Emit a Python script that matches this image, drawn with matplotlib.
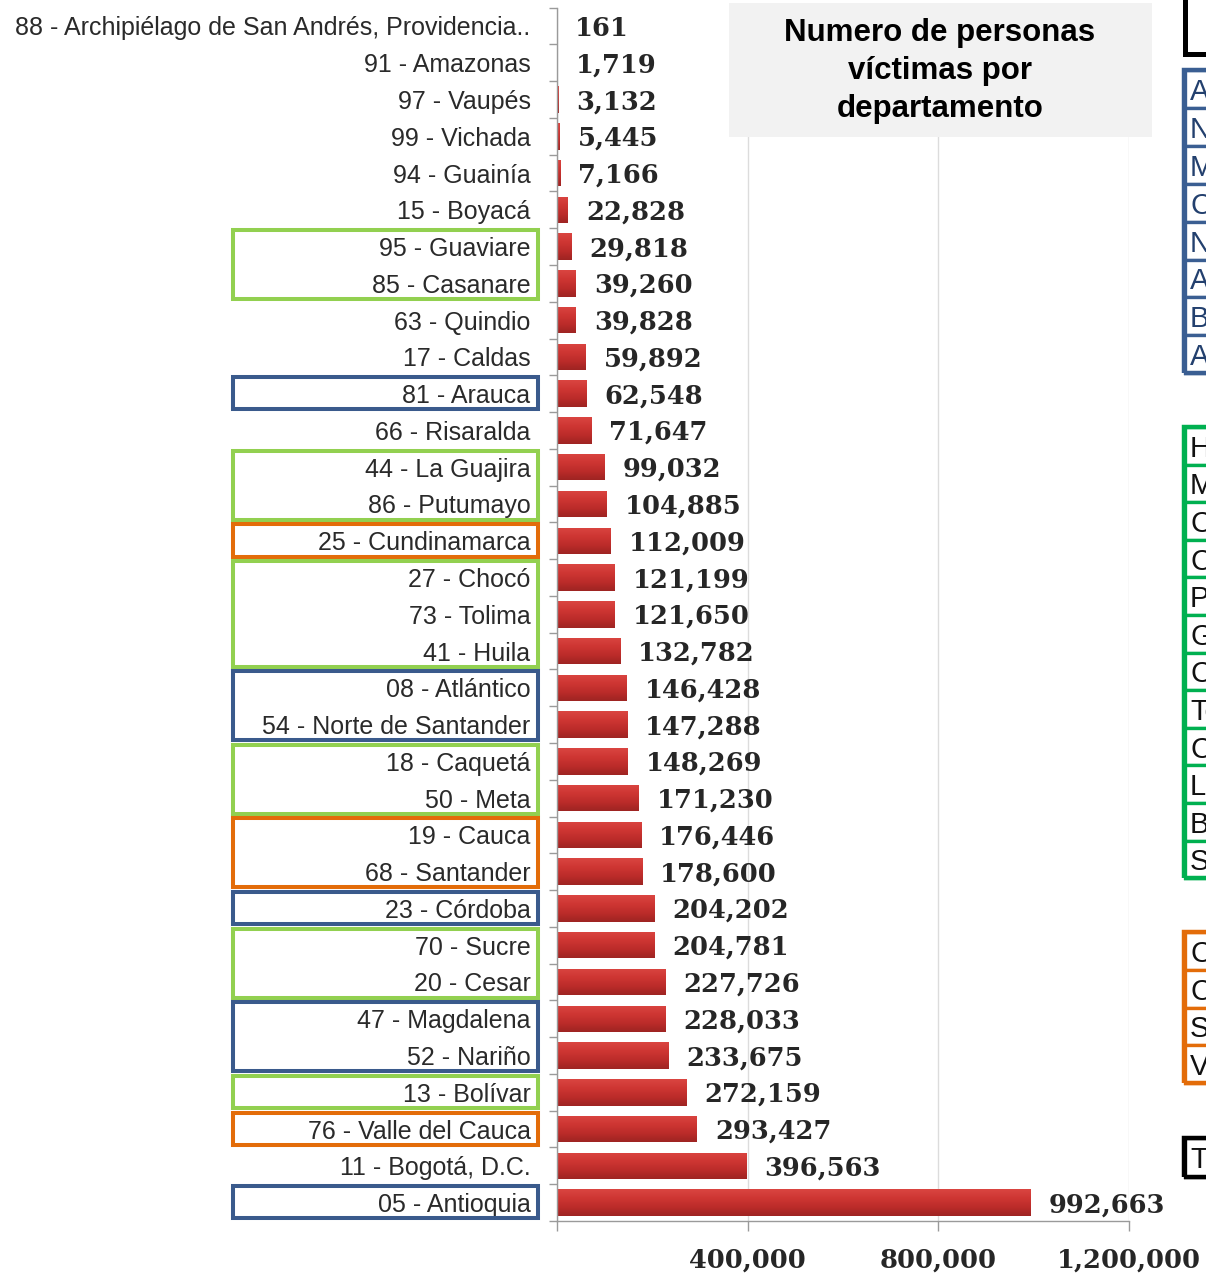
import matplotlib
matplotlib.use("Agg")
import matplotlib.pyplot as plt
import numpy as np
from matplotlib.patches import Rectangle
from matplotlib import transforms
from matplotlib.colors import LinearSegmentedColormap

# ---------------- data ----------------
departamentos = [
    "88 - Archipiélago de San Andrés, Providencia..",
    "91 - Amazonas", "97 - Vaupés", "99 - Vichada", "94 - Guainía",
    "15 - Boyacá", "95 - Guaviare", "85 - Casanare", "63 - Quindio",
    "17 - Caldas", "81 - Arauca", "66 - Risaralda", "44 - La Guajira",
    "86 - Putumayo", "25 - Cundinamarca", "27 - Chocó", "73 - Tolima",
    "41 - Huila", "08 - Atlántico", "54 - Norte de Santander",
    "18 - Caquetá", "50 - Meta", "19 - Cauca", "68 - Santander",
    "23 - Córdoba", "70 - Sucre", "20 - Cesar", "47 - Magdalena",
    "52 - Nariño", "13 - Bolívar", "76 - Valle del Cauca",
    "11 - Bogotá, D.C.", "05 - Antioquia",
]
victimas = [
    161, 1719, 3132, 5445, 7166, 22828, 29818, 39260, 39828, 59892,
    62548, 71647, 99032, 104885, 112009, 121199, 121650, 132782,
    146428, 147288, 148269, 171230, 176446, 178600, 204202, 204781,
    227726, 228033, 233675, 272159, 293427, 396563, 992663,
]
tick_values = [0, 400000, 800000, 1200000]
tick_labels = ["", "400,000", "800,000", "1,200,000"]
titulo = "Numero de personas\nvíctimas por\ndepartamento"

# highlighted groups of labels: (first label, last label, group)
recuadros = [
    ("95 - Guaviare", "85 - Casanare", "verde"),
    ("81 - Arauca", "81 - Arauca", "azul"),
    ("44 - La Guajira", "86 - Putumayo", "verde"),
    ("25 - Cundinamarca", "25 - Cundinamarca", "naranja"),
    ("27 - Chocó", "41 - Huila", "verde"),
    ("08 - Atlántico", "54 - Norte de Santander", "azul"),
    ("18 - Caquetá", "50 - Meta", "verde"),
    ("19 - Cauca", "68 - Santander", "naranja"),
    ("23 - Córdoba", "23 - Córdoba", "azul"),
    ("70 - Sucre", "20 - Cesar", "verde"),
    ("47 - Magdalena", "52 - Nariño", "azul"),
    ("13 - Bolívar", "13 - Bolívar", "verde"),
    ("76 - Valle del Cauca", "76 - Valle del Cauca", "naranja"),
    ("05 - Antioquia", "05 - Antioquia", "azul"),
]

# side legend lists (only the first letters are visible at the right border)
lista_azul = ["A", "N", "M", "C", "N", "A", "B", "A"]
lista_verde = ["H", "M", "C", "C", "P", "G", "C", "To", "C", "La", "B", "S"]
lista_naranja = ["C", "C", "S", "Va"]
lista_negra = ["T"]

# ---------------- style ----------------
W_PX, H_PX = 1206, 1275
def fx(px):
    return px / W_PX
def fy(py):
    return 1 - py / H_PX

box_colors = {"verde": "#92D050", "azul": "#3A5A8C", "naranja": "#E36C09"}
leg_colors = {"azul": "#3A5E92", "verde": "#00B050", "naranja": "#E36C09",
              "negro": "#000000"}
label_font = ["Liberation Sans", "DejaVu Sans"]
num_font = ["DejaVu Serif"]

fig = plt.figure(figsize=(W_PX / 100, H_PX / 100), dpi=100)
fig.patch.set_facecolor("white")

ax = fig.add_axes([fx(557), fy(1221), fx(1129) - fx(557), fy(7.6) - fy(1221)])

n = len(departamentos)
ypos = np.arange(n)
bars = ax.barh(ypos, victimas, height=0.72, color="#C3302D", zorder=2)

# vertical gradient on the bars
cmap = LinearSegmentedColormap.from_list(
    "barra", ["#DA4541", "#CE3633", "#BC2C2A", "#9E2422"])
grad = np.linspace(0, 1, 64).reshape(-1, 1)
for b in bars:
    x0, y0, w, h = b.get_x(), b.get_y(), b.get_width(), b.get_height()
    im = ax.imshow(grad, extent=[x0, x0 + w, y0 + h, y0], aspect="auto",
                   cmap=cmap, zorder=2.1, interpolation="bilinear")
    im.set_clip_path(b)

ax.set_xlim(0, 1200000)
ax.set_ylim(n - 0.5, -0.5)
ax.set_aspect("auto")

# value labels
for yi, v in zip(ypos, victimas):
    ax.annotate(f"{v:,}", xy=(v, yi), xytext=(13, -1.5), textcoords="offset points",
                ha="left", va="center", fontsize=18.5, fontweight="bold",
                family=num_font, color="#262626", zorder=4)

# axes styling
for s in ["top", "right"]:
    ax.spines[s].set_visible(False)
for s in ["left", "bottom"]:
    ax.spines[s].set_color("#9A9A9A")
    ax.spines[s].set_linewidth(1.0)

ax.set_xticks(tick_values)
ax.set_xticklabels(tick_labels)
ax.tick_params(axis="x", direction="out", length=7, width=1, color="#9A9A9A",
               pad=12)
for t in ax.get_xticklabels():
    t.set_fontsize(18.5)
    t.set_fontweight("bold")
    t.set_family(num_font)
    t.set_color("#262626")

ax.set_yticks(ypos)
ax.set_yticklabels(departamentos)
ax.set_yticks(np.arange(-0.5, n, 1.0), minor=True)
ax.tick_params(axis="y", which="major", length=0, pad=19)
ax.tick_params(axis="y", which="minor", direction="out", length=6, width=1,
               color="#9A9A9A")
for t in ax.get_yticklabels():
    t.set_fontsize(18)
    t.set_family(label_font)
    t.set_color("#2A2A2A")

ax.xaxis.grid(True, color="#DCDCDC", linewidth=1.0, zorder=0)
ax.set_axisbelow(True)

# highlight boxes around the labels
blend = transforms.blended_transform_factory(fig.transFigure, ax.transData)
for first, last, grp in recuadros:
    i0 = departamentos.index(first)
    i1 = departamentos.index(last)
    r = Rectangle((fx(233), i0 - 0.45), fx(538) - fx(233), (i1 - i0) + 0.88,
                  transform=blend, fill=False, edgecolor=box_colors[grp],
                  linewidth=2.9, clip_on=False, zorder=5)
    ax.add_patch(r)

# title box
fig.patches.append(Rectangle((fx(729), fy(137)), fx(1152) - fx(729),
                             fy(3) - fy(137), transform=fig.transFigure,
                             facecolor="#F2F2F2", edgecolor="none", zorder=1))
fig.text(fx(940), fy(71), titulo, ha="center", va="center", fontsize=22.5,
         fontweight="bold", family=label_font, color="black",
         linespacing=1.33, zorder=3)

# side legend boxes (cut at the right edge)
def legend_column(names, top_px, row_px, color, text_color):
    for k, name in enumerate(names):
        ytop = top_px + k * row_px
        fig.patches.append(Rectangle((fx(1185), fy(ytop + row_px)), fx(60),
                                     row_px / H_PX, transform=fig.transFigure,
                                     facecolor="white", edgecolor=color,
                                     linewidth=2.4, zorder=2))
        fig.text(fx(1190), fy(ytop + row_px / 2), name, ha="left",
                 va="center_baseline", fontsize=21, family=label_font,
                 color=text_color, zorder=3)
    fig.patches.append(Rectangle((fx(1184), fy(top_px + row_px * len(names))),
                                 fx(60), row_px * len(names) / H_PX,
                                 transform=fig.transFigure, facecolor="none",
                                 edgecolor=color, linewidth=3.2, zorder=4))

legend_column(lista_azul, 70, 37.9, leg_colors["azul"], "#23406E")
legend_column(lista_verde, 427, 37.6, leg_colors["verde"], "#111111")
legend_column(lista_naranja, 932, 37.75, leg_colors["naranja"], "#111111")
legend_column(lista_negra, 1138, 39, leg_colors["negro"], "#111111")

# top black box
fig.patches.append(Rectangle((fx(1185), fy(54)), fx(60), 80 / H_PX,
                             transform=fig.transFigure, facecolor="white",
                             edgecolor="black", linewidth=3.6, zorder=2))

fig.savefig("out.png", dpi=100, facecolor="white")
